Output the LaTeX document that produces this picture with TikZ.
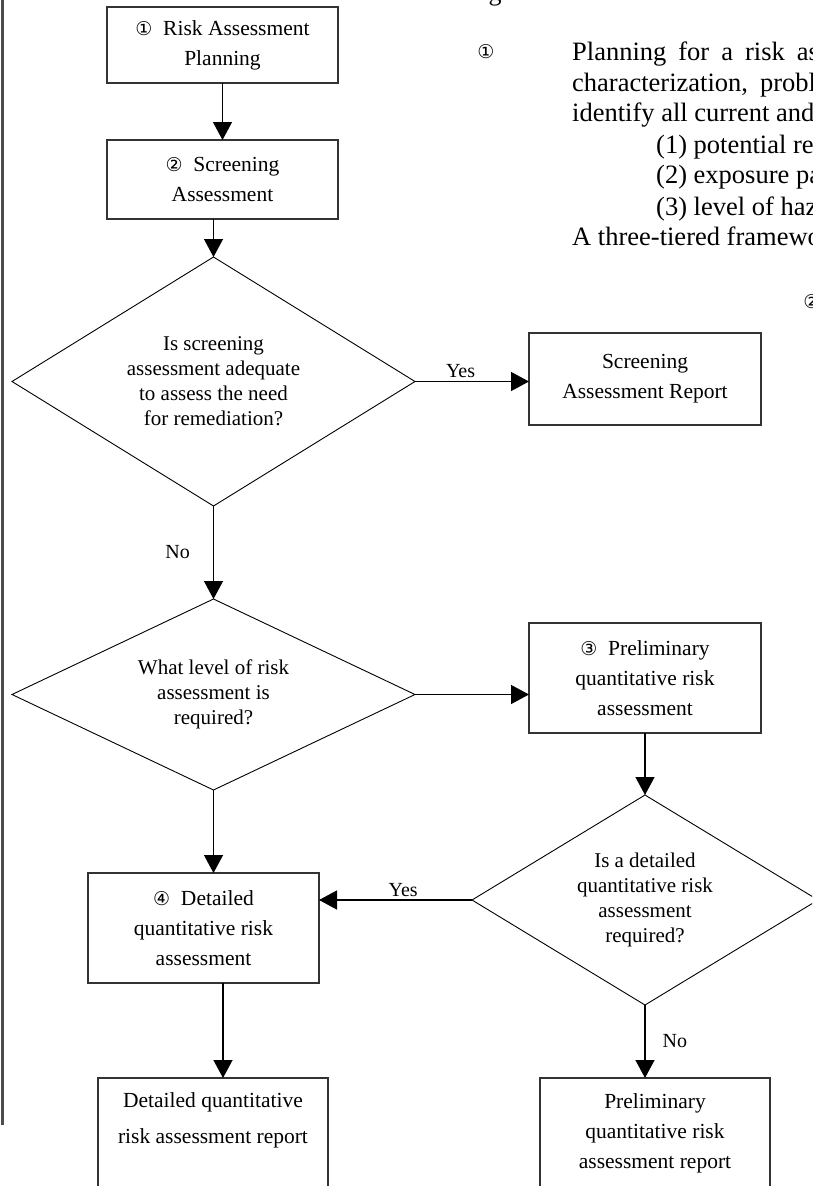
\documentclass[tikz,border=0pt]{standalone}
\usepackage{fontspec}
\setmainfont{Liberation Serif}
\newfontfamily\circfont{DejaVu Sans}
\usetikzlibrary{shapes.geometric,arrows.meta}
\newcommand{\circno}[1]{{\circfont\fontsize{19}{19}\selectfont #1}}

\begin{document}
\begin{tikzpicture}[x=1pt, y=-1pt,
		box/.style={draw=black!80, line width=1.3pt, align=center, inner sep=2pt, outer sep=0pt, font=\fontsize{21.5}{30}\selectfont},
		decision/.style={diamond, aspect=1.6, draw, line width=0.9pt, align=center, inner sep=0pt, outer sep=0pt, font=\fontsize{21}{25}\selectfont},
		flow/.style={line width=1.3pt, -{Triangle[length=18pt, width=19pt]}},
		tag/.style={font=\fontsize{20}{20}\selectfont, inner sep=3pt},
		body/.style={anchor=base west, inner sep=0pt, font=\fontsize{26.5}{31}\selectfont}]
		\useasboundingbox (0, 0) rectangle (812, 1186);
		\clip (0, 0) rectangle (812, 1186);

		% flow chart
		\node[box, minimum width=231pt, minimum height=76pt] (plan) at (222.5, 45) {\circno{①}\enspace Risk Assessment\\Planning};
		\node[box, minimum width=231pt, minimum height=79pt] (screen) at (222.5, 179.5) {\circno{②}\enspace Screening\\Assessment};
		\node[decision, minimum width=403pt, minimum height=249pt] (adequate) at (213.5, 381.5) {Is screening\\assessment adequate\\to assess the need\\for remediation?};
		\node[box, minimum width=232pt, minimum height=92pt] (screenrep) at (645, 379) {Screening\\Assessment Report};
		\node[decision, minimum width=403pt, minimum height=191pt] (level) at (213.5, 694.5) {What level of risk\\assessment is\\required?};
		\node[box, minimum width=232pt, minimum height=110pt] (prelim) at (645, 678) {\circno{③}\enspace Preliminary\\quantitative risk\\assessment};
		\node[decision, minimum width=346pt, minimum height=210pt] (needdet) at (645, 900) {Is a detailed\\quantitative risk\\assessment\\required?};
		\node[box, minimum width=231pt, minimum height=110pt] (detail) at (203.5, 928) {\circno{④}\enspace Detailed\\quantitative risk\\assessment};
		\node[box, anchor=north, minimum width=230pt, inner ysep=15pt, font=\fontsize{21.5}{36}\selectfont] (detrep) at (213, 1078) {Detailed quantitative\\risk assessment report\\\mbox{}\\\mbox{}};
		\node[box, anchor=north, minimum width=230pt, inner ysep=16pt] (prelrep) at (655, 1078) {Preliminary\\quantitative risk\\assessment report\\\mbox{}};

		\draw[flow] (plan) -- (screen);
		\draw[flow] (adequate.north |- screen.south) -- (adequate.north);
		\draw[flow] (adequate.east) -- (adequate.east -| screenrep.west) node[tag, pos=0.4, above] {Yes};
		\draw[flow] (adequate.south) -- (level.north) node[tag, midway, left, xshift=-20pt] {No};
		\draw[flow] (level.east) -- (level.east -| prelim.west);
		\draw[flow] (prelim.south) -- (needdet.north);
		\draw[flow] (needdet.west) -- (needdet.west -| detail.east) node[tag, pos=0.45, above] {Yes};
		\draw[flow] (level.south) -- (level.south |- detail.north);
		\draw[flow] ([xshift=19.5pt]detail.south) -- ([xshift=10pt]detrep.north);
		\draw[flow] (needdet.south) -- (needdet.south |- prelrep.north) node[tag, midway, right, xshift=14pt] {No};

		% page behind
		\draw[line width=2.2pt, black!70] (2.5, 0) -- (2.5, 1125);
		\node[anchor=base, inner sep=0pt, font=\fontsize{26}{26}\selectfont] (headg) at (495, 0) {g};
		\node[inner sep=0pt, font=\circfont\fontsize{19}{19}\selectfont] (markone) at (486, 52) {①};
		\node[inner sep=0pt, font=\circfont\fontsize{19}{19}\selectfont] (marktwo) at (812, 302) {②};
		\node[body] (lineA) at (572, 60) {Planning\hspace{12pt}for\hspace{12pt}a\hspace{12pt}risk\hspace{12pt}as};
		\node[body] (lineB) at (572, 91) {characterization,\hspace{12pt}probl};
		\node[body] (lineC) at (572, 121) {identify all current and};
		\node[body] (lineD) at (656, 153) {(1) potential re};
		\node[body] (lineE) at (656, 183) {(2) exposure pa};
		\node[body] (lineF) at (656, 215) {(3) level of haz};
		\node[body] (lineG) at (572, 245) {A three-tiered framewo};
	\end{tikzpicture}
\end{document}
